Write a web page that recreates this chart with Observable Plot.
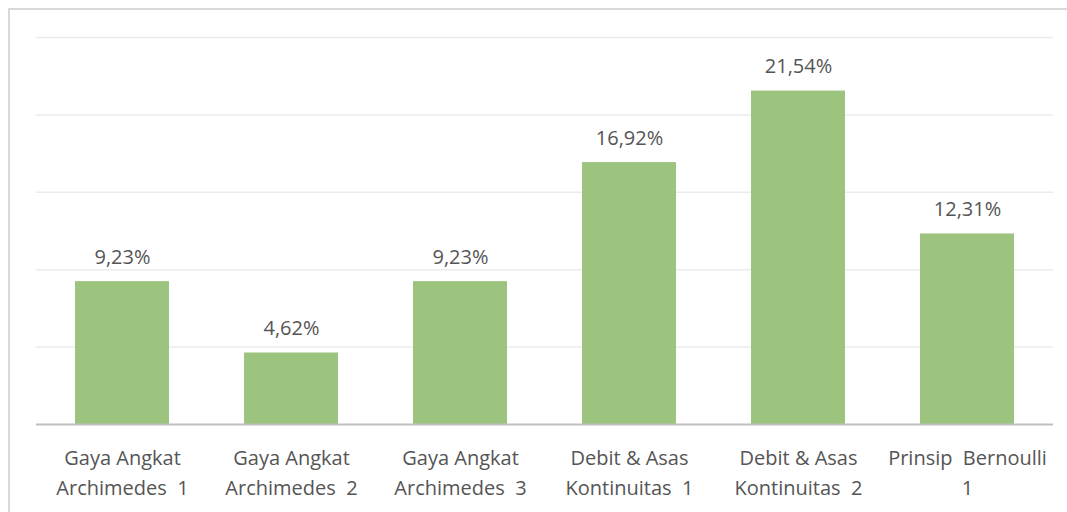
<!DOCTYPE html>
<html>
<head>
<meta charset="utf-8">
<script src="https://cdn.jsdelivr.net/npm/d3@7"></script>
<script src="https://cdn.jsdelivr.net/npm/@observablehq/plot@0.6"></script>
<style>
  html, body { margin: 0; padding: 0; background: #fff; }
  #wrap { position: relative; width: 1067px; height: 512px; overflow: hidden; }
  #border { position: absolute; left: 8px; top: 8px; width: 1070px; height: 520px;
            border-left: 2px solid #d9d9d9; border-top: 2px solid #d9d9d9; box-sizing: border-box; }
  #chart { position: absolute; left: 0; top: 0; }
</style>
</head>
<body>
<div id="wrap"><div id="border"></div><div id="chart"></div></div>
<script>
const categories = [
  "Gaya Angkat\nArchimedes  1",
  "Gaya Angkat\nArchimedes  2",
  "Gaya Angkat\nArchimedes  3",
  "Debit & Asas\nKontinuitas  1",
  "Debit & Asas\nKontinuitas  2",
  "Prinsip  Bernoulli\n1"
];
const values = [9.23, 4.62, 9.23, 16.92, 21.54, 12.31];
const yTicks = [0, 5, 10, 15, 20, 25];

const data = categories.map((c, i) => ({ category: c, value: values[i] }));
const fmt = v => v.toFixed(2).replace(".", ",") + "%";

const chart = Plot.plot({
  width: 1067,
  height: 512,
  marginLeft: 36,
  marginRight: 14,
  marginTop: 37,
  marginBottom: 88,
  style: { fontFamily: "'Open Sans', sans-serif", fontSize: "20px", color: "#555555", background: "transparent" },
  x: { domain: categories, paddingInner: 0.445, paddingOuter: 0.2225, label: null },
  y: { domain: [0, 25], axis: null },
  marks: [
    Plot.ruleY(yTicks.filter(t => t > 0), { stroke: "#ebebeb", strokeWidth: 1.5 }),
    Plot.barY(data, { x: "category", y: "value", fill: "#9cc47e" }),
    Plot.ruleY([0], { stroke: "#bfbfbf", strokeWidth: 2 }),
    Plot.text(data, { x: "category", y: "value", text: d => fmt(d.value), dy: -24, fill: "#555555", fontSize: 20 }),
    Plot.axisX({ tickSize: 0, tickPadding: 19, fontSize: 20, lineHeight: 1.5, fill: "#555555", label: null })
  ]
});
document.getElementById("chart").appendChild(chart);
</script>
</body>
</html>
